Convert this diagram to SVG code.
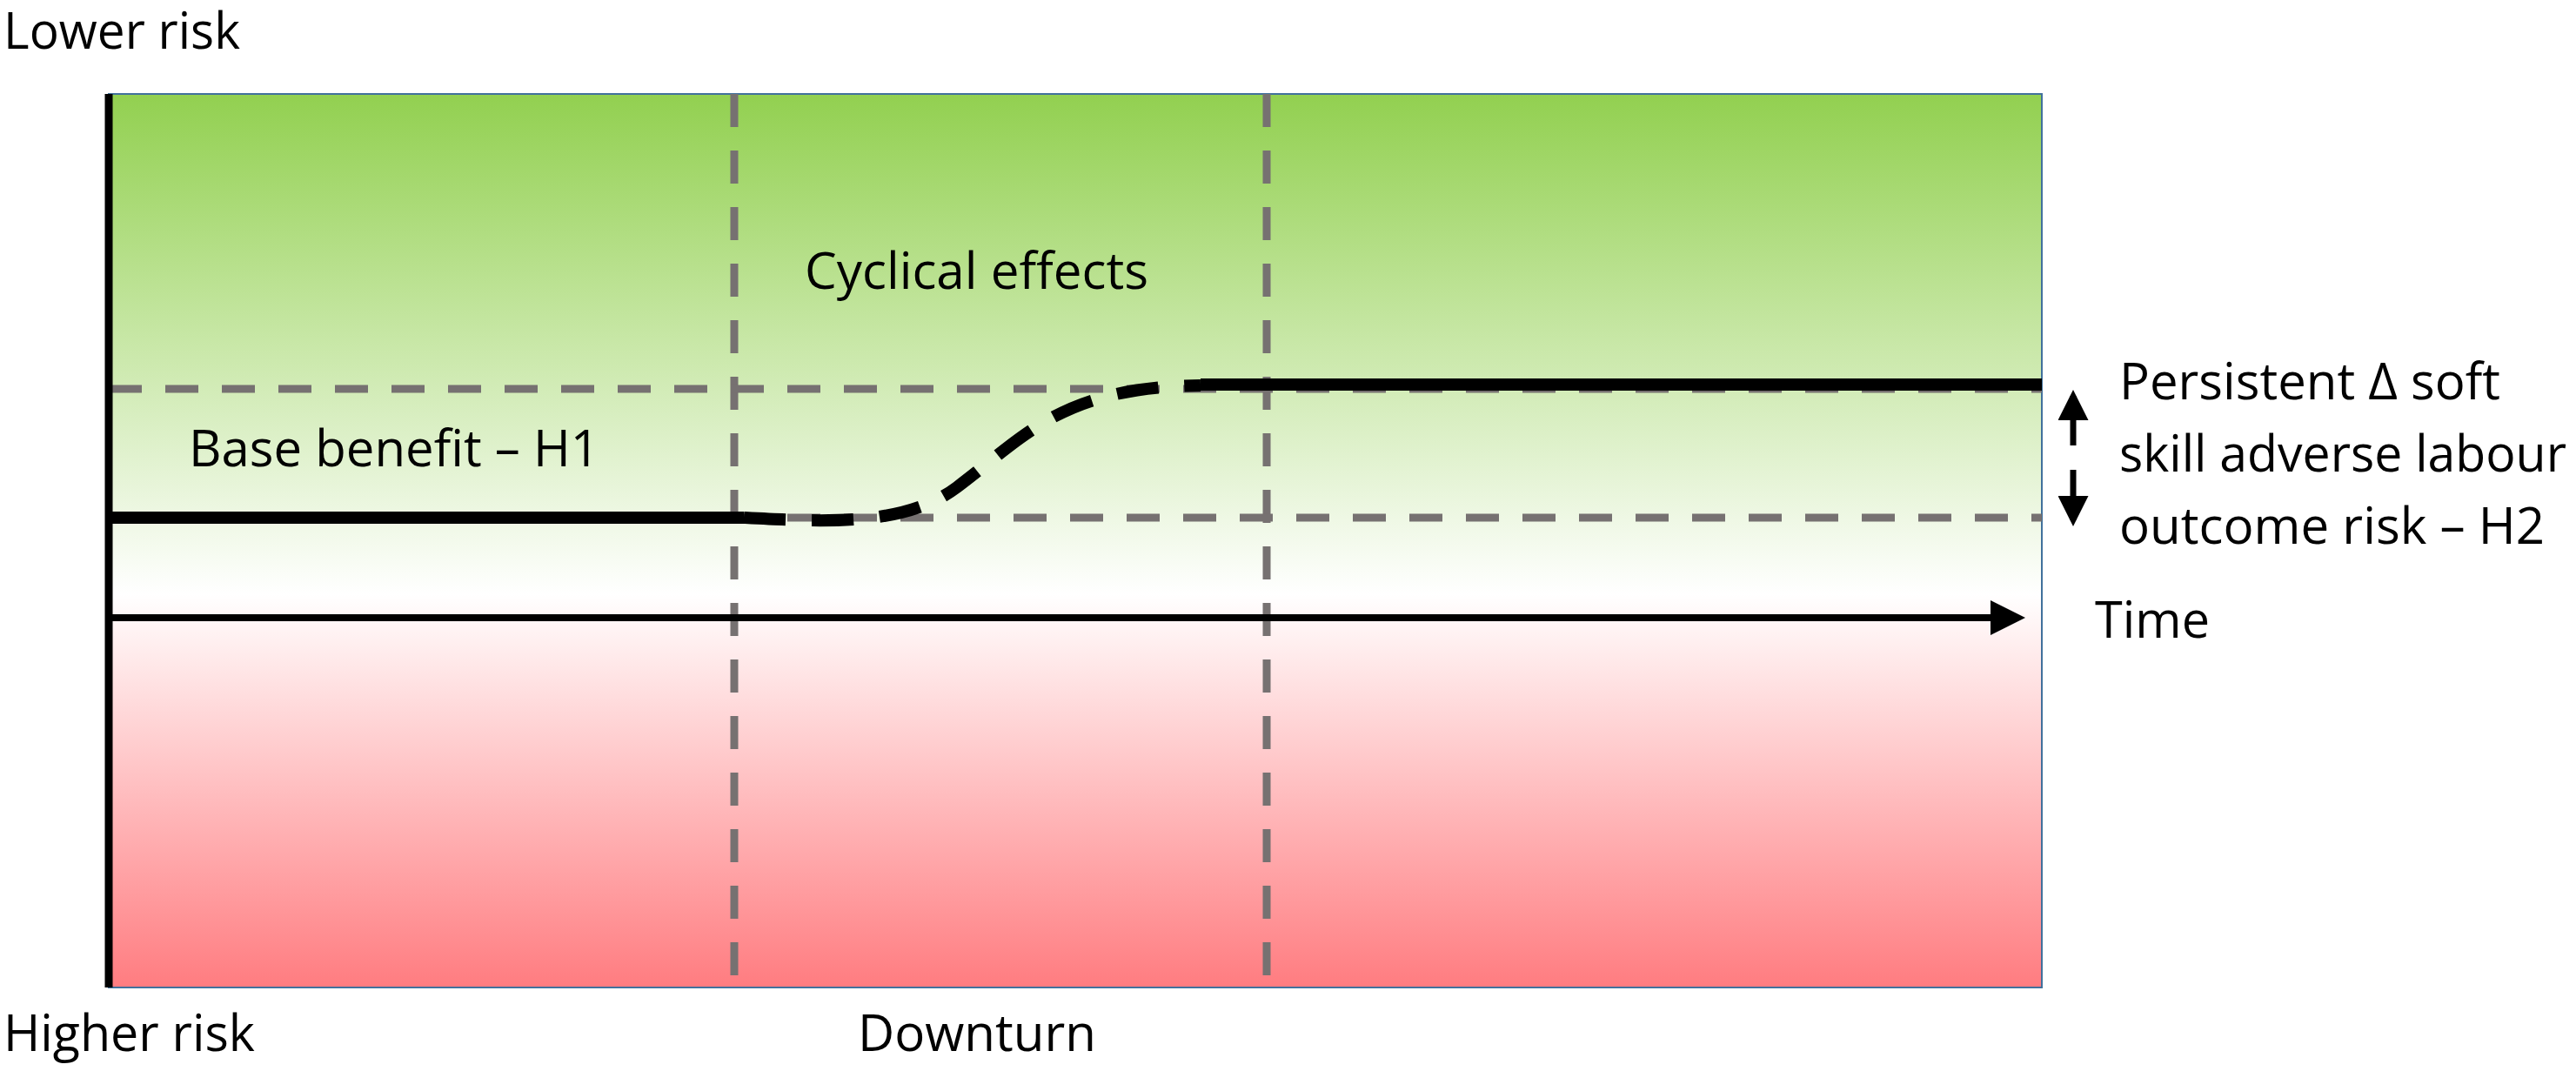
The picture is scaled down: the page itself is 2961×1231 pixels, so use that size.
<svg xmlns="http://www.w3.org/2000/svg" width="2961" height="1231" viewBox="0 0 2961 1231">
<style>
text{font-family:"Open Sans","Liberation Sans",sans-serif;font-size:58px;fill:#000}
.g{stroke:#767171;stroke-width:9;stroke-dasharray:38 27;fill:none}
.k{stroke:#000;fill:none}
</style>
<defs>
<linearGradient id="bg" x1="0" y1="0" x2="0" y2="1">
<stop offset="0" stop-color="#92d050"/>
<stop offset="0.56" stop-color="#ffffff"/>
<stop offset="1" stop-color="#ff7c80"/>
</linearGradient>
<marker id="ah" markerWidth="5" markerHeight="5" refX="4" refY="2.5" orient="auto" markerUnits="strokeWidth">
<path d="M0,0 L5,2.5 L0,5 z" fill="#000"/>
</marker>
</defs>
<rect width="2961" height="1231" fill="#fff"/>
<g id="panel">
<rect x="125" y="108" width="2222" height="1027" fill="url(#bg)" stroke="#41719c" stroke-width="2"/>
</g>
<g id="grid">
<line class="g" x1="844" y1="108" x2="844" y2="1135"/>
<line class="g" x1="1456" y1="108" x2="1456" y2="1135"/>
<line class="g" x1="125" y1="447" x2="2347" y2="447"/>
<line class="g" x1="125" y1="595" x2="2347" y2="595"/>
</g>
<g id="connectors">
<line class="k" x1="125" y1="108" x2="125" y2="1135" stroke-width="9"/>
<line class="k" x1="125" y1="710" x2="2320" y2="710" stroke-width="8" marker-end="url(#ah)"/>
<line class="k" x1="125" y1="595" x2="855" y2="595" stroke-width="14"/>
<path class="k" d="M855,595 C950,600 1040,605 1100,560 C1180,500 1220,445 1380,443" stroke-width="14" stroke-dasharray="48 30"/>
<line class="k" x1="1380" y1="442" x2="2347" y2="442" stroke-width="14"/>
<line class="k" x1="2383" y1="512" x2="2383" y2="455" stroke-width="7" marker-end="url(#ah)"/>
<line class="k" x1="2383" y1="540" x2="2383" y2="598" stroke-width="7" marker-end="url(#ah)"/>
</g>
<g id="labels">
<text x="4" y="56" textLength="272" lengthAdjust="spacingAndGlyphs">Lower risk</text>
<text x="4" y="1208" textLength="289" lengthAdjust="spacingAndGlyphs">Higher risk</text>
<text x="986" y="1208" textLength="274" lengthAdjust="spacingAndGlyphs">Downturn</text>
<text x="925" y="332" textLength="395" lengthAdjust="spacingAndGlyphs">Cyclical effects</text>
<text x="217" y="536" textLength="472" lengthAdjust="spacingAndGlyphs">Base benefit – H1</text>
<text x="2408" y="733" textLength="132" lengthAdjust="spacingAndGlyphs">Time</text>
<text x="2436" y="459" textLength="438" lengthAdjust="spacingAndGlyphs">Persistent Δ soft</text>
<text x="2436" y="542" textLength="514" lengthAdjust="spacingAndGlyphs">skill adverse labour</text>
<text x="2436" y="625" textLength="489" lengthAdjust="spacingAndGlyphs">outcome risk – H2</text>
</g>
</svg>
